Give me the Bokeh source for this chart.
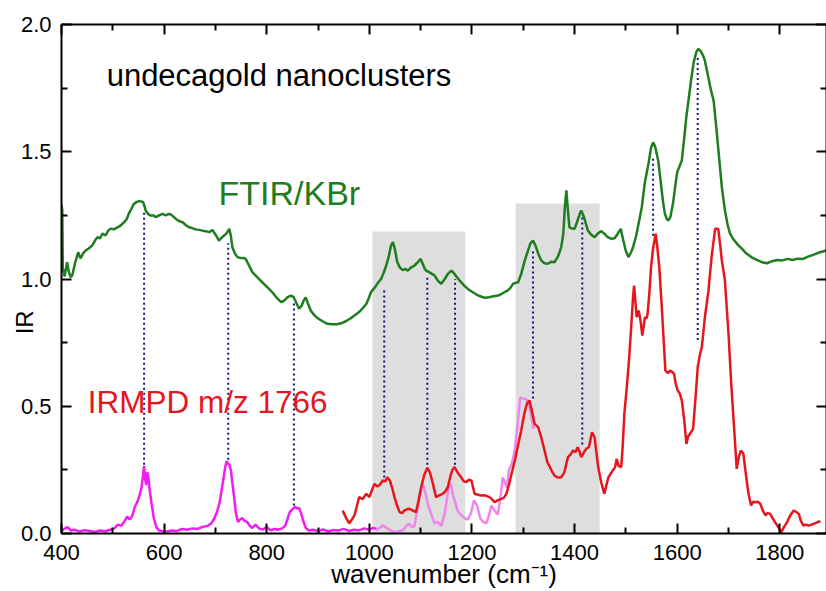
from bokeh.plotting import figure
from bokeh.models import Range1d, LinearAxis, FixedTicker, Label
from bokeh.embed import file_html
from bokeh.resources import INLINE

# ---------------- data ----------------
x_major_ticks = [400, 600, 800, 1000, 1200, 1400, 1600, 1800]
x_minor_ticks = [500, 700, 900, 1100, 1300, 1500, 1700, 1900]
y_major_ticks = [0.0, 0.5, 1.0, 1.5, 2.0]
y_minor_ticks = [0.25, 0.75, 1.25, 1.75]

# FTIR / KBr (green)
ftir_wn = [400, 401.5, 402.5, 406, 411, 414, 417.6, 421, 426, 432.6,
           437, 442, 447, 453, 460, 465, 470, 475, 480, 486,
           491, 496, 502, 509, 515, 522, 527, 531, 536, 541,
           546, 551, 555, 559, 562, 564, 569, 574, 579, 584,
           590, 597, 603, 608, 613, 618, 623, 629, 636, 642,
           649, 655, 661, 668, 675, 681, 688, 694, 700, 707,
           712, 717, 722, 727, 730, 733, 738, 743, 750, 755,
           759, 765, 772, 780, 790, 798, 805, 812, 820, 828,
           834, 840, 847, 852, 858, 863, 868, 872, 876, 880,
           886, 893, 900, 908, 918, 928, 937, 945, 955, 963,
           971, 980, 987, 994, 999, 1003, 1010, 1017, 1023, 1028,
           1033, 1038, 1042, 1046, 1050, 1054, 1059, 1065, 1070, 1075,
           1081, 1088, 1094, 1100, 1104, 1108, 1111, 1118, 1127, 1133,
           1140, 1147, 1153, 1160, 1166, 1173, 1180, 1186, 1192, 1200,
           1208, 1216, 1225, 1233, 1242, 1251, 1258, 1265, 1270, 1275,
           1280, 1285, 1290, 1296, 1303, 1309, 1314, 1319, 1324, 1330,
           1335, 1341, 1348, 1355, 1361, 1368, 1374, 1378, 1381, 1384,
           1387, 1390, 1395, 1400, 1405, 1410, 1413, 1418, 1426, 1432,
           1439, 1446, 1452, 1458, 1464, 1472, 1478, 1484, 1490, 1495,
           1500, 1505, 1510, 1514, 1520, 1526, 1531, 1537, 1544, 1549,
           1553, 1557, 1563, 1568, 1572, 1576, 1580, 1583, 1587, 1592,
           1596, 1600, 1604, 1609, 1614, 1618, 1622, 1627, 1632, 1637,
           1641, 1646, 1650, 1654, 1660, 1666, 1671, 1676, 1682, 1687,
           1693, 1698, 1703, 1710, 1718, 1726, 1735, 1745, 1755, 1765,
           1775, 1785, 1795, 1805, 1815, 1825, 1835, 1845, 1855, 1865,
           1878, 1891]
ftir_val = [1.290, 1.269, 1.043, 1.010, 1.066, 1.030, 1.007, 1.014, 1.060, 1.105,
            1.081, 1.100, 1.112, 1.120, 1.132, 1.150, 1.164, 1.160, 1.178, 1.171,
            1.190, 1.198, 1.195, 1.203, 1.210, 1.223, 1.235, 1.256, 1.275, 1.295,
            1.302, 1.306, 1.305, 1.302, 1.285, 1.269, 1.255, 1.249, 1.250, 1.243,
            1.250, 1.256, 1.250, 1.255, 1.254, 1.245, 1.236, 1.228, 1.223, 1.212,
            1.203, 1.200, 1.195, 1.193, 1.190, 1.188, 1.184, 1.193, 1.175, 1.151,
            1.162, 1.171, 1.180, 1.197, 1.170, 1.125, 1.100, 1.086, 1.082, 1.083,
            1.079, 1.055, 1.027, 1.010, 0.990, 0.974, 0.960, 0.945, 0.925, 0.909,
            0.915, 0.928, 0.935, 0.930, 0.905, 0.883, 0.895, 0.915, 0.928, 0.905,
            0.875, 0.857, 0.845, 0.835, 0.824, 0.822, 0.822, 0.826, 0.835, 0.845,
            0.857, 0.870, 0.885, 0.902, 0.925, 0.948, 0.965, 0.985, 1.001, 1.025,
            1.053, 1.090, 1.130, 1.145, 1.115, 1.070, 1.046, 1.035, 1.040, 1.033,
            1.045, 1.053, 1.065, 1.079, 1.060, 1.040, 1.033, 1.025, 1.014, 0.995,
            0.981, 1.000, 1.020, 1.033, 1.020, 1.001, 0.985, 0.972, 0.961, 0.950,
            0.940, 0.932, 0.926, 0.928, 0.932, 0.935, 0.942, 0.950, 0.955, 0.965,
            0.981, 0.985, 0.987, 1.020, 1.073, 1.110, 1.140, 1.151, 1.130, 1.095,
            1.073, 1.062, 1.060, 1.068, 1.066, 1.090, 1.125, 1.178, 1.280, 1.348,
            1.270, 1.203, 1.198, 1.197, 1.225, 1.255, 1.269, 1.245, 1.190, 1.175,
            1.164, 1.180, 1.188, 1.178, 1.165, 1.158, 1.160, 1.178, 1.197, 1.151,
            1.110, 1.086, 1.105, 1.125, 1.170, 1.230, 1.282, 1.380, 1.453, 1.515,
            1.537, 1.520, 1.466, 1.380, 1.310, 1.256, 1.235, 1.230, 1.245, 1.300,
            1.361, 1.420, 1.440, 1.466, 1.560, 1.640, 1.701, 1.780, 1.850, 1.890,
            1.904, 1.895, 1.880, 1.858, 1.800, 1.740, 1.701, 1.600, 1.470, 1.361,
            1.270, 1.215, 1.178, 1.155, 1.135, 1.119, 1.100, 1.085, 1.075, 1.066,
            1.062, 1.070, 1.075, 1.073, 1.079, 1.075, 1.080, 1.079, 1.088, 1.095,
            1.105, 1.112]

# IRMPD, low-frequency part (magenta)
mag_wn = [400, 405, 412, 418, 425, 435, 445, 455, 465, 475,
          485, 495, 503, 510, 516, 522, 528, 533, 538, 543,
          548, 552, 556, 559, 561, 563, 565, 567, 569, 572,
          576, 580, 585, 590, 597, 605, 615, 625, 635, 645,
          655, 665, 675, 685, 692, 698, 703, 708, 712, 716,
          719, 722, 724, 727, 730, 733, 736, 740, 744, 748,
          752, 757, 762, 767, 772, 778, 785, 792, 800, 808,
          815, 822, 830, 836, 841, 845, 850, 855, 859, 863,
          867, 871, 876, 882, 890, 900, 910, 920, 930, 940,
          950, 960, 970, 980, 990, 1000, 1008, 1014]
mag_val = [0.010, 0.018, 0.025, 0.012, 0.015, 0.008, 0.013, 0.010, 0.006, 0.012,
           0.009, 0.015, 0.020, 0.035, 0.030, 0.045, 0.066, 0.055, 0.070, 0.105,
           0.125, 0.150, 0.180, 0.230, 0.265, 0.215, 0.190, 0.240, 0.225, 0.170,
           0.110, 0.060, 0.025, 0.012, 0.010, 0.008, 0.012, 0.010, 0.018, 0.015,
           0.020, 0.018, 0.026, 0.030, 0.040, 0.060, 0.085, 0.120, 0.170, 0.220,
           0.260, 0.285, 0.275, 0.270, 0.250, 0.200, 0.150, 0.080, 0.045, 0.055,
           0.060, 0.050, 0.045, 0.030, 0.022, 0.035, 0.020, 0.015, 0.025, 0.012,
           0.018, 0.015, 0.020, 0.030, 0.060, 0.085, 0.095, 0.105, 0.098, 0.100,
           0.080, 0.050, 0.022, 0.012, 0.015, 0.010, 0.016, 0.008, 0.014, 0.012,
           0.018, 0.010, 0.015, 0.012, 0.020, 0.015, 0.022, 0.018]

# IRMPD, second scan (violet)
vio_wn = [1013, 1020, 1026, 1035, 1043, 1050, 1058, 1065, 1072, 1077,
          1083, 1088, 1094, 1099, 1104, 1109, 1114, 1120, 1127, 1134,
          1140, 1146, 1151, 1155, 1159, 1163, 1167, 1172, 1178, 1185,
          1192, 1198, 1204, 1210, 1216, 1222, 1228, 1233, 1238, 1244,
          1250, 1255, 1260, 1264, 1268, 1272, 1277, 1283, 1289, 1294,
          1300, 1305, 1310, 1315, 1320]
vio_val = [0.012, 0.022, 0.032, 0.020, 0.010, 0.005, 0.010, 0.012, 0.030, 0.038,
           0.025, 0.030, 0.100, 0.160, 0.195, 0.160, 0.115, 0.080, 0.040, 0.045,
           0.030, 0.070, 0.130, 0.190, 0.195, 0.150, 0.125, 0.090, 0.075, 0.060,
           0.055, 0.080, 0.130, 0.110, 0.060, 0.045, 0.040, 0.070, 0.110, 0.090,
           0.075, 0.130, 0.220, 0.200, 0.180, 0.250, 0.270, 0.320, 0.430, 0.535,
           0.530, 0.528, 0.515, 0.470, 0.410]

# IRMPD m/z 1766 (red)
red_wn = [948, 955, 961, 966, 971, 976, 980, 987, 994, 1000,
          1005, 1010, 1015, 1020, 1026, 1031, 1035, 1040, 1045, 1049,
          1054, 1059, 1064, 1068, 1073, 1078, 1085, 1091, 1096, 1101,
          1107, 1113, 1118, 1124, 1130, 1136, 1143, 1148, 1153, 1158,
          1162, 1166, 1172, 1179, 1184, 1189, 1194, 1199, 1205, 1212,
          1218, 1226, 1234, 1239, 1244, 1250, 1257, 1262, 1267, 1272,
          1277, 1284, 1290, 1296, 1302, 1307, 1312, 1317, 1322, 1329,
          1335, 1341, 1347, 1352, 1357, 1361, 1367, 1374, 1380, 1387,
          1392, 1397, 1402, 1406, 1410, 1413, 1418, 1423, 1428, 1434,
          1439, 1446, 1452, 1458, 1462, 1466, 1472, 1479, 1482, 1486,
          1491, 1494, 1497, 1502, 1506, 1510, 1514, 1516, 1519, 1521,
          1525, 1529, 1532, 1535, 1537, 1540, 1542, 1546, 1549, 1553,
          1558, 1561, 1565, 1570, 1577, 1582, 1586, 1590, 1594, 1597,
          1601, 1605, 1609, 1614, 1618, 1621, 1625, 1631, 1636, 1640,
          1644, 1648, 1654, 1661, 1667, 1674, 1680, 1684, 1687, 1693,
          1700, 1705, 1710, 1716, 1720, 1724, 1729, 1734, 1739, 1744,
          1748, 1752, 1757, 1762, 1767, 1772, 1776, 1781, 1786, 1791,
          1797, 1803, 1808, 1814, 1820, 1827, 1832, 1837, 1841, 1846,
          1851, 1856, 1862, 1868, 1874, 1879]
red_val = [0.090, 0.060, 0.040, 0.055, 0.071, 0.110, 0.143, 0.135, 0.156, 0.143,
           0.170, 0.195, 0.185, 0.190, 0.208, 0.205, 0.221, 0.208, 0.175, 0.143,
           0.110, 0.084, 0.080, 0.090, 0.095, 0.097, 0.090, 0.084, 0.130, 0.182,
           0.230, 0.258, 0.240, 0.195, 0.143, 0.150, 0.156, 0.165, 0.182, 0.225,
           0.250, 0.261, 0.240, 0.221, 0.205, 0.202, 0.212, 0.208, 0.156, 0.152,
           0.149, 0.150, 0.143, 0.135, 0.123, 0.130, 0.136, 0.140, 0.156, 0.190,
           0.234, 0.290, 0.350, 0.405, 0.470, 0.510, 0.523, 0.480, 0.431, 0.418,
           0.378, 0.330, 0.280, 0.261, 0.240, 0.228, 0.220, 0.221, 0.240, 0.300,
           0.310, 0.326, 0.320, 0.339, 0.320, 0.300, 0.318, 0.333, 0.340, 0.398,
           0.378, 0.261, 0.200, 0.156, 0.190, 0.221, 0.240, 0.261, 0.293, 0.265,
           0.261, 0.350, 0.470, 0.580, 0.680, 0.800, 0.930, 0.974, 0.900, 0.850,
           0.876, 0.830, 0.778, 0.820, 0.850, 0.845, 0.857, 0.950, 1.046, 1.120,
           1.178, 1.130, 1.050, 0.889, 0.640, 0.630, 0.640, 0.635, 0.627, 0.590,
           0.562, 0.550, 0.523, 0.440, 0.352, 0.380, 0.392, 0.411, 0.540, 0.653,
           0.700, 0.732, 0.850, 0.955, 1.086, 1.197, 1.197, 1.130, 1.073, 0.994,
           0.785, 0.600, 0.444, 0.254, 0.300, 0.326, 0.313, 0.230, 0.156, 0.110,
           0.125, 0.123, 0.125, 0.117, 0.090, 0.071, 0.080, 0.077, 0.060, 0.044,
           0.025, 0.005, 0.025, 0.044, 0.070, 0.090, 0.085, 0.077, 0.050, 0.031,
           0.035, 0.031, 0.035, 0.040, 0.045, 0.048]

# dotted correlation lines
dot_wn = [561, 725, 853, 1029, 1113, 1167, 1319, 1415, 1553, 1640]
dot_low = [0.27, 0.29, 0.11, 0.22, 0.27, 0.27, 0.53, 0.35, 1.17, 0.76]
dot_high = [1.26, 1.14, 0.91, 0.96, 1.01, 1.00, 1.11, 1.25, 1.48, 1.88]

# shaded regions
box_left = [1006, 1285]
box_right = [1187, 1449]
box_top = [1.187, 1.297]
box_bottom = [0.0, 0.0]

FONT = "Liberation Sans"
GREEN = "#1e7d1e"
RED = "#e5161c"
MAGENTA = "#f01cf0"
VIOLET = "#ee86ee"

p = figure(width=826, height=591, x_range=Range1d(400, 1891), y_range=Range1d(0, 2.0),
           output_backend="svg", toolbar_location=None,
           min_border_left=61, min_border_right=0, min_border_top=24, min_border_bottom=58)
p.grid.visible = False
p.outline_line_color = None
p.background_fill_color = "white"
p.border_fill_color = "white"

def style(ax, ticks, minors, labels=True, standoff=10):
    ax.ticker = FixedTicker(ticks=ticks, minor_ticks=minors)
    ax.axis_line_color = "black"
    ax.axis_line_width = 2
    ax.major_tick_line_color = "black"
    ax.major_tick_line_width = 2
    ax.minor_tick_line_color = "black"
    ax.minor_tick_line_width = 2
    ax.major_tick_in = 10
    ax.major_tick_out = 0
    ax.minor_tick_in = 6
    ax.minor_tick_out = 0
    if labels:
        ax.major_label_text_font = FONT
        ax.major_label_text_font_size = "22px"
        ax.major_label_text_color = "black"
        ax.major_label_standoff = standoff
        ax.axis_label_text_font = FONT
        ax.axis_label_text_font_size = "24px"
        ax.axis_label_text_font_style = "normal"
        ax.axis_label_text_color = "black"
    else:
        ax.major_label_text_font_size = "0px"
        ax.major_label_text_color = None
        ax.major_label_standoff = 0

style(p.xaxis[0], x_major_ticks, x_minor_ticks, True, 11)
p.xaxis[0].major_label_overrides = {t: str(t) for t in x_major_ticks}
p.xaxis[0].axis_label = "wavenumber (cm\u207b\u00b9)"
p.xaxis[0].axis_label_text_font_size = "26px"
p.xaxis[0].axis_label_standoff = -4
style(p.yaxis[0], y_major_ticks, y_minor_ticks, True, 10)
p.yaxis[0].major_label_overrides = {t: f"{t:.1f}" for t in y_major_ticks}
# trailing no-break spaces move the rotated title down along the axis, as in the original
p.yaxis[0].axis_label = "IR" + "\u00a0" * 13
p.yaxis[0].axis_label_standoff = -20

top_axis = LinearAxis()
style(top_axis, x_major_ticks, x_minor_ticks, False)
p.add_layout(top_axis, "above")
right_axis = LinearAxis()
style(right_axis, y_major_ticks, y_minor_ticks, False)
p.add_layout(right_axis, "right")

p.quad(left=box_left, right=box_right, top=box_top, bottom=box_bottom,
       fill_color="#dedede", line_color=None)

p.segment(x0=dot_wn, y0=dot_low, x1=dot_wn, y1=dot_high,
          line_color="#14147f", line_width=2, line_dash="2 3")

p.line(ftir_wn, ftir_val, line_color=GREEN, line_width=2.5)
p.line(mag_wn, mag_val, line_color=MAGENTA, line_width=2.5)
p.line(vio_wn, vio_val, line_color=VIOLET, line_width=2.5)
p.line(red_wn, red_val, line_color=RED, line_width=2.5)

p.add_layout(Label(x=488, y=1.80, text="undecagold nanoclusters", text_font=FONT,
                   text_font_size="31px", text_color="black", text_baseline="alphabetic"))
p.add_layout(Label(x=706, y=1.336, text="FTIR/KBr", text_font=FONT,
                   text_font_size="34px", text_color=GREEN, text_baseline="alphabetic"))
p.add_layout(Label(x=451, y=0.515, text="IRMPD m/z 1766", text_font=FONT,
                   text_font_size="31.5px", text_color=RED, text_baseline="alphabetic"))

open("out.html", "w").write(file_html(p, INLINE))
